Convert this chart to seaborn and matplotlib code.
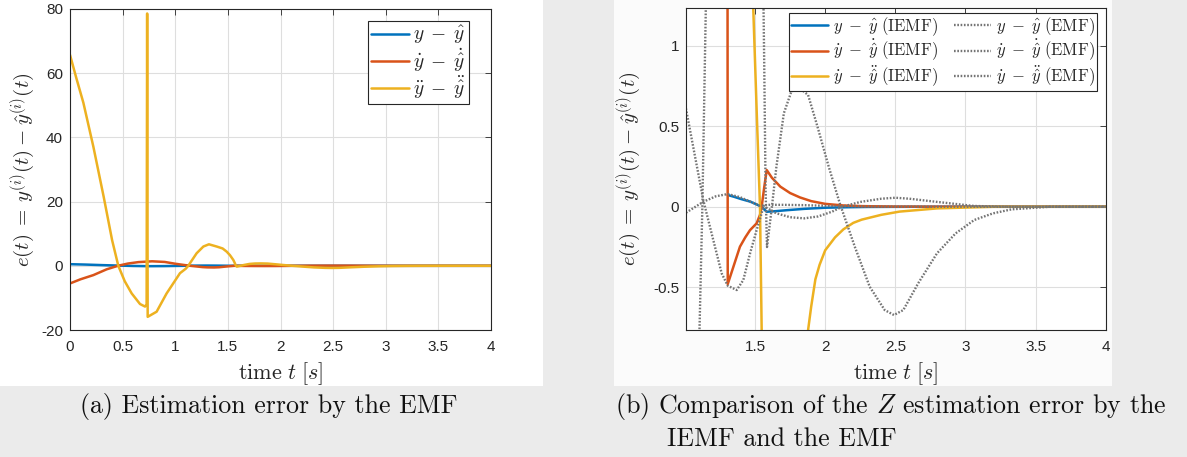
import matplotlib
matplotlib.use("Agg")
import matplotlib.pyplot as plt
import seaborn as sns
from matplotlib.patches import Rectangle
from matplotlib.ticker import FixedLocator, FuncFormatter

# ---------------- data ----------------
# EMF estimation errors (used in panel a, and dotted grey in panel b)
t_emf_y = [0.0, 0.15, 0.3, 0.45, 0.6, 0.75, 0.9, 1.0, 1.131, 1.22, 1.305, 1.392,
           1.47, 1.535, 1.6, 1.7, 1.85, 2.0, 2.2, 2.5, 3.0, 4.0]
e_emf_y = [0.5, 0.38, 0.22, 0.08, -0.05, -0.12, -0.09, -0.041, 0.031, 0.065, 0.079, 0.06,
           0.03, 0.006, 0.012, 0.012, 0.01, 0.006, 0.003, 0.0, 0.0, 0.0]

t_emf_dy = [0.0, 0.1, 0.222, 0.348, 0.455, 0.55, 0.65, 0.78, 0.9, 1.0, 1.131, 1.202,
            1.262, 1.305, 1.369, 1.416, 1.464, 1.511, 1.547, 1.56, 1.65, 1.75, 1.85,
            1.95, 2.05, 2.12, 2.25, 2.4, 2.5, 2.6, 2.8, 3.06, 3.3, 4.0]
e_emf_dy = [-5.5, -4.2, -2.9, -1.1, 0.0, 0.7, 1.15, 1.4, 1.2, 0.642, 0.04, -0.207,
            -0.414, -0.49, -0.517, -0.455, -0.29, -0.145, -0.04, 0.005, -0.04, -0.065, -0.072,
            -0.06, -0.03, 0.0, 0.03, 0.05, 0.056, 0.05, 0.03, 0.005, 0.0, 0.0]

t_emf_ddy = [0.0, 0.06, 0.127, 0.222, 0.32, 0.40, 0.459, 0.52, 0.586, 0.665, 0.713, 0.728,
             0.733, 0.738, 0.823, 0.918, 1.045, 1.10, 1.124, 1.15, 1.203, 1.267, 1.32, 1.394,
             1.45, 1.489, 1.52, 1.552, 1.565, 1.575, 1.585, 1.62, 1.652, 1.705, 1.758, 1.811,
             1.878, 1.945, 2.025, 2.104, 2.211, 2.317, 2.424, 2.49, 2.557, 2.663, 2.797, 2.93,
             3.063, 3.196, 3.329, 3.6, 4.0]
e_emf_ddy = [65.7, 58.5, 50.8, 37.1, 21.5, 8.0, 0.0, -4.8, -8.6, -11.9, -12.7, -12.0,
             78.6, -15.9, -14.3, -8.6, -2.3, -0.9, 0.0, 1.3, 3.9, 6.0, 6.7, 6.0,
             5.4, 4.4, 3.3, 1.8, 0.9, 0.1, -0.25, 0.0, 0.249, 0.58, 0.714, 0.741,
             0.694, 0.497, 0.249, 0.021, -0.248, -0.496, -0.641, -0.672, -0.641, -0.475, -0.289, -0.165,
             -0.082, -0.041, -0.016, 0.0, 0.0]

# IEMF estimation errors (panel b, solid)
t_iemf_y = [1.305, 1.35, 1.40, 1.465, 1.51, 1.545, 1.583, 1.65, 1.73, 1.85, 2.0, 2.15,
            2.3, 2.6, 3.0, 4.0]
e_iemf_y = [0.073, 0.062, 0.048, 0.032, 0.015, 0.0, -0.031, -0.027, -0.021, -0.013, -0.006, -0.003,
            -0.001, 0.0, 0.0, 0.0]

t_iemf_dy = [1.300, 1.305, 1.35, 1.392, 1.43, 1.464, 1.511, 1.535, 1.547, 1.565, 1.583, 1.62,
             1.68, 1.75, 1.82, 1.9, 2.0, 2.13, 2.26, 2.5, 3.0, 4.0]
e_iemf_dy = [6.0, -0.48, -0.36, -0.248, -0.19, -0.145, -0.103, -0.05, 0.0, 0.12, 0.228, 0.18,
             0.125, 0.085, 0.058, 0.035, 0.018, 0.008, 0.004, 0.001, 0.0, 0.0]

t_iemf_ddy = [1.305, 1.40, 1.487, 1.515, 1.535, 1.547, 1.60, 1.70, 1.80, 1.878, 1.90, 1.93,
              1.96, 2.0, 2.07, 2.13, 2.2, 2.26, 2.4, 2.53, 2.8, 3.2, 4.0]
e_iemf_ddy = [5.0, 2.9, 1.23, 0.5, 0.0, -0.77, -2.6, -2.2, -1.3, -0.765, -0.62, -0.45,
              -0.36, -0.27, -0.19, -0.14, -0.10, -0.08, -0.05, -0.03, -0.01, 0.0, 0.0]

labels_a = [r'$y\;-\;\hat{y}$', r'$\dot{y}\;-\;\dot{\hat{y}}$', r'$\ddot{y}\;-\;\ddot{\hat{y}}$']
labels_b_iemf = [r'$y\;-\;\hat{y}\ \mathrm{(IEMF)}$', r'$\dot{y}\;-\;\dot{\hat{y}}\ \mathrm{(IEMF)}$',
                 r'$\dot{y}\;-\;\ddot{\hat{y}}\ \mathrm{(IEMF)}$']
labels_b_emf = [r'$y\;-\;\hat{y}\ \mathrm{(EMF)}$', r'$\dot{y}\;-\;\dot{\hat{y}}\ \mathrm{(EMF)}$',
                r'$\dot{y}\;-\;\ddot{\hat{y}}\ \mathrm{(EMF)}$']
xticks_a = [0, 0.5, 1, 1.5, 2, 2.5, 3, 3.5, 4]
yticks_a = [-20, 0, 20, 40, 60, 80]
xticks_b = [1.5, 2, 2.5, 3, 3.5, 4]
yticks_b = [-0.5, 0, 0.5, 1]
xlabel = r'$\mathrm{time}\ t\;[s]$'
ylabel = r'$e(t)\:=\:y^{(i)}(t)\:-\:\hat{y}^{(i)}(t)$'
cap_a = '(a) Estimation error by the EMF'
cap_b1 = '(b) Comparison of the $Z$ estimation error by the'
cap_b2 = 'IEMF and the EMF'

# ---------------- style ----------------
sns.set_theme(style="white")
plt.rcParams.update({
    'font.family': ['Liberation Sans', 'DejaVu Sans'],
    'mathtext.fontset': 'cm',
    'axes.unicode_minus': False,
})

C_BLUE, C_RED, C_YEL, C_GRAY = '#0072BD', '#D95319', '#EDB120', '#747474'
TXT = '#262626'

W, H = 1187, 457
fig = plt.figure(figsize=(W / 100, H / 100), dpi=100)
fig.patch.set_facecolor('#ebebeb')
fig.add_artist(Rectangle((0, 1 - 386 / H), 543 / W, 386 / H, transform=fig.transFigure,
                         facecolor='white', edgecolor='none', zorder=-5))
fig.add_artist(Rectangle((614 / W, 1 - 386 / H), (1112 - 614) / W, 386 / H, transform=fig.transFigure,
                         facecolor='#fbfbfb', edgecolor='none', zorder=-5))

axA = fig.add_axes([70 / W, 1 - 330 / H, 421 / W, 321 / H])
axB = fig.add_axes([686 / W, 1 - 330 / H, 419.7 / W, 321.7 / H])

LW = 1.8
# panel a
for t, e, c, lab in [(t_emf_y, e_emf_y, C_BLUE, labels_a[0]),
                     (t_emf_dy, e_emf_dy, C_RED, labels_a[1]),
                     (t_emf_ddy, e_emf_ddy, C_YEL, labels_a[2])]:
    sns.lineplot(x=t, y=e, ax=axA, color=c, linewidth=LW, label=lab, estimator=None, sort=False)

# panel b
for t, e, c, lab in [(t_iemf_y, e_iemf_y, C_BLUE, labels_b_iemf[0]),
                     (t_iemf_dy, e_iemf_dy, C_RED, labels_b_iemf[1]),
                     (t_iemf_ddy, e_iemf_ddy, C_YEL, labels_b_iemf[2])]:
    sns.lineplot(x=t, y=e, ax=axB, color=c, linewidth=LW, label=lab, estimator=None, sort=False)
for t, e, lab in [(t_emf_y, e_emf_y, labels_b_emf[0]),
                  (t_emf_dy, e_emf_dy, labels_b_emf[1]),
                  (t_emf_ddy, e_emf_ddy, labels_b_emf[2])]:
    sns.lineplot(x=t, y=e, ax=axB, color=C_GRAY, linewidth=1.7, label=lab, estimator=None,
                 sort=False, linestyle=(0, (0.7, 0.7)), dash_capstyle='butt')

axA.set_xlim(0, 4)
axA.set_ylim(-20, 80)
axB.set_xlim(1.0074, 4)
axB.set_ylim(-0.765, 1.232)

fmt = FuncFormatter(lambda v, p: f'{v:g}')
for ax, xt, yt in [(axA, xticks_a, yticks_a), (axB, xticks_b, yticks_b)]:
    ax.xaxis.set_major_locator(FixedLocator(xt))
    ax.yaxis.set_major_locator(FixedLocator(yt))
    ax.xaxis.set_major_formatter(fmt)
    ax.yaxis.set_major_formatter(fmt)
    ax.tick_params(direction='in', length=4, width=0.6, color=TXT, labelcolor=TXT,
                   labelsize=11, top=True, right=True, pad=5)
    ax.tick_params(axis='x', pad=7)
    ax.grid(True, color='#dedede', linewidth=0.8)
    ax.set_axisbelow(True)
    for s in ax.spines.values():
        s.set_visible(True)
        s.set_color(TXT)
        s.set_linewidth(0.8)
    ax.set_facecolor('white')
    ax.set_xlabel(xlabel, fontsize=16, color=TXT)
    ax.set_ylabel(ylabel, fontsize=15, color=TXT)
    ax.xaxis.set_label_coords(0.5, -(360 - 330) / 321)

axA.yaxis.set_label_coords((37 - 70) / 421, 0.5)
axB.yaxis.set_label_coords((643 - 686) / 419.7, 0.5)

# legends
hA, lA = axA.get_legend_handles_labels()
legA = axA.legend(hA, lA, loc='upper right', bbox_to_anchor=((468.5 - 70) / 421, (330 - 21) / 321),
                  borderaxespad=0, fontsize=14, handlelength=1.95, handletextpad=0.2,
                  borderpad=0.15, labelspacing=0.0, fancybox=False, framealpha=1)
hB, lB = axB.get_legend_handles_labels()
legB = axB.legend(hB, lB, loc='upper right', ncol=2,
                  bbox_to_anchor=((1096.7 - 686) / 419.7, (330 - 13.3) / 321.7),
                  borderaxespad=0, fontsize=12, handlelength=2.2, handletextpad=0.3,
                  columnspacing=1.0, borderpad=0.1, labelspacing=0.0, fancybox=False,
                  framealpha=1)
for leg in (legA, legB):
    fr = leg.get_frame()
    fr.set_edgecolor(TXT)
    fr.set_linewidth(0.8)
    for txt in leg.get_texts():
        txt.set_color(TXT)

# captions
renderer = fig.canvas.get_renderer()
tb1 = fig.text(615 / W, 1 - 413.5 / H, cap_b1, fontsize=15, family='cmr10', color='#111111',
               ha='left', va='baseline')
bb = tb1.get_window_extent(renderer)
fs = 15 * 552 / bb.width
tb1.set_fontsize(fs)
fig.text(667 / W, 1 - 445.5 / H, cap_b2, fontsize=fs, family='cmr10', color='#111111',
         ha='left', va='baseline')
fig.text(80 / W, 1 - 413.5 / H, cap_a, fontsize=fs, family='cmr10', color='#111111',
         ha='left', va='baseline')

fig.savefig('out.png', dpi=100, facecolor=fig.get_facecolor())
